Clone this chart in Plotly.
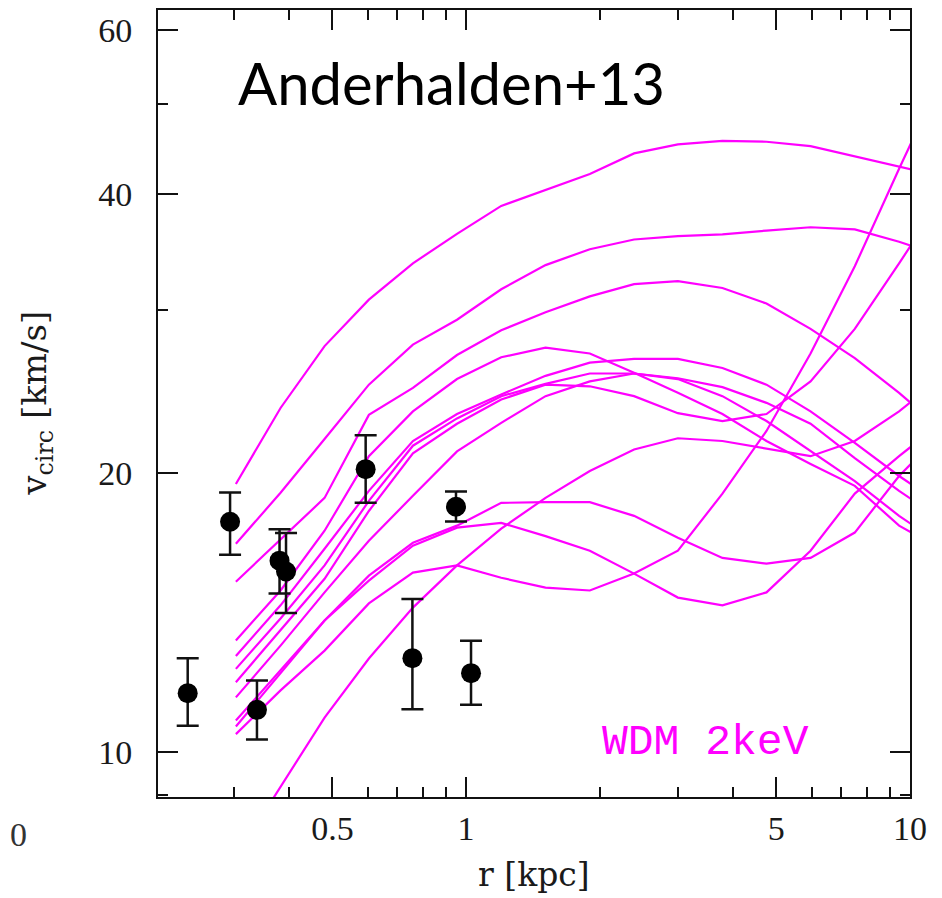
import plotly.graph_objects as go

# radius sampling of the model curves [kpc]
r_model = [0.303, 0.382, 0.480, 0.604, 0.759, 0.954, 1.20, 1.51, 1.90, 2.39,
           3.00, 3.78, 4.75, 5.97, 7.51, 9.45, 11.88]

# WDM 2keV subhalo circular-velocity curves [km/s]
curve_a = [19.46, 23.5, 27.4, 30.75, 33.65, 36.2, 38.8, 40.4, 42.0, 44.2, 45.2, 45.6, 45.5, 45.0, 43.85, 42.8, 41.7]
curve_b = [16.78, 19.04, 21.76, 24.9, 27.5, 29.25, 31.55, 33.5, 34.85, 35.7, 36.0, 36.15, 36.5, 36.8, 36.6, 35.5, 34.25]
curve_c = [15.27, 16.94, 18.8, 23.1, 24.7, 26.8, 28.5, 29.8, 31.0, 31.95, 32.2, 31.65, 30.45, 28.6, 26.6, 24.4, 22.2]
curve_p = [13.2, 14.94, 17.33, 20.85, 23.3, 25.25, 26.65, 27.3, 26.9, 25.65, 24.4, 23.15, 21.65, 20.45, 19.37, 17.55, 16.49]
curve_s = [12.7, 14.4, 16.57, 19.13, 21.65, 23.15, 24.3, 25.45, 26.3, 26.55, 26.55, 25.95, 24.9, 23.3, 21.55, 19.85, 18.43]
curve_t = [12.3, 13.94, 15.9, 18.66, 21.4, 22.9, 24.2, 24.95, 25.6, 25.6, 25.3, 24.75, 23.8, 22.6, 20.75, 19.13, 17.76]
curve_u = [11.9, 13.53, 15.38, 18.2, 21.0, 22.6, 24.0, 24.9, 24.8, 24.2, 23.2, 22.75, 23.15, 25.1, 28.6, 33.65, 39.7]
curve_v = [11.46, 13.03, 14.87, 16.9, 18.9, 21.1, 22.65, 24.2, 25.1, 25.6, 25.25, 24.2, 22.75, 21.1, 19.6, 17.98, 16.7]
curve_q = [10.82, 12.25, 13.87, 15.5, 16.82, 17.55, 18.57, 18.6, 18.6, 17.98, 17.03, 16.2, 15.97, 16.2, 17.25, 19.85, 22.2]
curve_q2 = [10.66, 12.16, 13.87, 15.31, 16.7, 17.46, 17.67, 17.1, 16.49, 15.58, 14.68, 14.4, 14.87, 16.49, 19.0, 20.85, 22.75]
curve_r = [10.46, 11.66, 12.87, 14.47, 15.62, 15.9, 15.42, 15.05, 14.94, 15.58, 16.49, 19.0, 22.2, 26.9, 33.4, 42.55, 53.8]
curve_k = [7.71, 9.19, 10.9, 12.62, 14.32, 15.9, 17.42, 18.8, 20.1, 21.2, 21.8, 21.65, 21.25, 20.85, 21.65, 23.3, 25.45]

curves = [curve_a, curve_b, curve_c, curve_p, curve_s, curve_t, curve_u,
          curve_v, curve_q, curve_q2, curve_r, curve_k]

# observed dwarf data points
r_obs = [0.236, 0.294, 0.338, 0.380, 0.393, 0.594, 0.757, 0.949, 1.026]
v_obs = [11.58, 17.72, 11.11, 16.09, 15.66, 20.19, 12.63, 18.39, 12.17]
v_hi = [12.63, 19.05, 11.95, 17.39, 17.23, 21.96, 14.63, 19.10, 13.19]
v_lo = [10.68, 16.33, 10.32, 14.83, 14.13, 18.57, 11.13, 17.73, 11.25]

x_ticks = [0.5, 1, 5, 10]
x_ticktext = ["0.5", "1", "5", "10"]
x_minor = [0.2, 0.3, 0.4, 0.6, 0.7, 0.8, 0.9, 2, 3, 4, 6, 7, 8, 9]
y_ticks = [10, 20, 40, 60]
y_minor = [9, 30, 50]

MAGENTA = "#ff00ff"

fig = go.Figure()
for c in curves:
    fig.add_trace(go.Scatter(x=r_model, y=c, mode="lines",
                             line=dict(color=MAGENTA, width=2.2),
                             showlegend=False, hoverinfo="skip"))

err_plus = [h - v for h, v in zip(v_hi, v_obs)]
err_minus = [v - l for v, l in zip(v_obs, v_lo)]
fig.add_trace(go.Scatter(
    x=r_obs, y=v_obs, mode="markers",
    marker=dict(color="black", size=20),
    error_y=dict(type="data", symmetric=False, array=err_plus,
                 arrayminus=err_minus, color="#111111", thickness=2.5, width=11),
    showlegend=False))

tickfont = dict(family="Liberation Serif", size=34, color="#1a1a1a")
axis_common = dict(type="log", showgrid=False, zeroline=False,
                   showline=True, linecolor="#111111", linewidth=2,
                   mirror="ticks", ticks="inside", ticklen=20, tickwidth=1.5,
                   tickcolor="#111111", tickfont=tickfont)

fig.update_xaxes(range=[-0.694, 1.0], tickmode="array", tickvals=x_ticks,
                 ticktext=x_ticktext, ticklabelstandoff=0,
                 minor=dict(tickmode="array", tickvals=x_minor, ticks="inside",
                            ticklen=10, tickwidth=1.5, tickcolor="#111111"),
                 **axis_common)
fig.update_yaxes(range=[0.9518, 1.8], tickmode="array", tickvals=y_ticks,
                 ticktext=[str(t) for t in y_ticks], ticklabelstandoff=17,
                 minor=dict(tickmode="array", tickvals=y_minor, ticks="inside",
                            ticklen=10, tickwidth=1.5, tickcolor="#111111"),
                 **axis_common)

title_font = dict(family="DejaVu Serif", size=33, color="#1a1a1a")
fig.add_annotation(xref="paper", yref="paper", x=0.5, y=-0.099,
                   text="r [kpc]", showarrow=False, font=title_font,
                   xanchor="center", yanchor="middle")
fig.add_annotation(xref="paper", yref="paper", x=-0.162, y=0.5,
                   text="v<sub>circ</sub> [km/s]", showarrow=False,
                   font=dict(family="DejaVu Serif", size=34, color="#1a1a1a"),
                   textangle=-90, xanchor="center", yanchor="middle")
fig.add_annotation(xref="paper", yref="paper", x=0.1037, y=0.908,
                   text="Anderhalden+13", showarrow=False,
                   font=dict(family="Lato", size=58, color="black"),
                   xanchor="left", yanchor="middle")
fig.add_annotation(xref="paper", yref="paper", x=0.5878, y=0.069,
                   text="WDM 2keV", showarrow=False,
                   font=dict(family="Liberation Mono", size=43, color=MAGENTA),
                   xanchor="left", yanchor="middle")
# tick label of the neighbouring panel at the far left
fig.add_annotation(xref="paper", yref="paper", x=-0.186,
                   y=-0.048, text="0", showarrow=False,
                   font=dict(family="Liberation Serif", size=34, color="#333333"),
                   xanchor="center", yanchor="middle")

fig.update_layout(width=934, height=890,
                  margin=dict(l=150, r=32, t=0, b=101),
                  plot_bgcolor="white", paper_bgcolor="white")

fig.write_html("out.html")
